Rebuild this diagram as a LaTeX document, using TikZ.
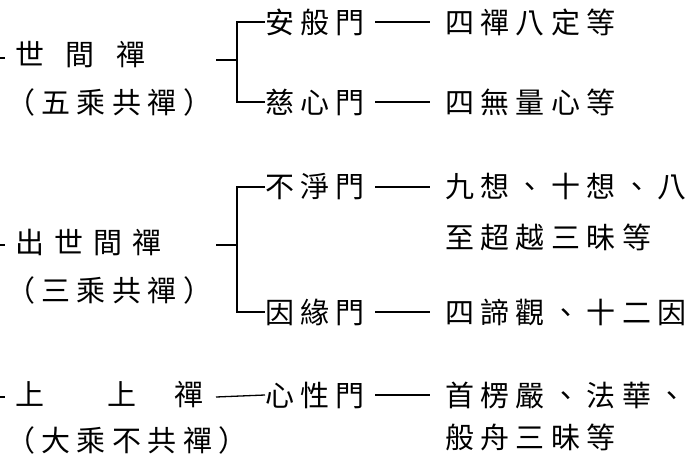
\documentclass[tikz,border=0pt]{standalone}
\usepackage{fontspec}
\newfontfamily\cjk[LetterSpace=22]{Noto Sans CJK TC}
\begin{document}
\begin{tikzpicture}[x=1pt,y=-1pt,
  t/.style={anchor=west,inner sep=0pt,font=\cjk\fontsize{29}{31}\selectfont},
  ln/.style={line width=1.3pt}]
\useasboundingbox (0,0) rectangle (700,470);
\clip (0,0) rectangle (700,470);
% row 1
\node[t] (a) at (15,55) {世\hspace{0.75em}間\hspace{0.75em}禪};
\node[t] (a2) at (6,102) {（五乘共禪）};
\node[t] (a1) at (265,22) {安般門};
\node[t] (a1c) at (445,22) {四禪八定等};
\node[t] (a3) at (265,102) {慈心門};
\node[t] (a3c) at (445,102) {四無量心等};
\coordinate (as) at (0,58); \coordinate (ae) at (5,58);
\draw[ln] (as) -- (ae);
\coordinate (ab) at (237,60);
\draw[ln] (216,60) -- (ab);
\draw[ln] (a1.west) -| (ab) |- (a3.west);
\draw[ln] ([xshift=10pt]a1.east) -- ([xshift=-15pt]a1c.west);
\draw[ln] ([xshift=10pt]a3.east) -- ([xshift=-15pt]a3c.west);
% row 2
\node[t] (b) at (15,243) {出\hspace{0.35em}世\hspace{0.35em}間\hspace{0.35em}禪};
\node[t] (b2) at (6,290) {（三乘共禪）};
\node[t] (b1) at (265,187) {不淨門};
\node[t] (b1c) at (445,187) {九想、十想、八};
\node[t] (b1d) at (445,237) {至超越三昧等};
\node[t] (b3) at (265,312) {因緣門};
\node[t] (b3c) at (445,312) {四諦觀、十二因};
\coordinate (bs) at (0,245); \coordinate (be) at (5,245);
\draw[ln] (bs) -- (be);
\coordinate (bb) at (237,245);
\draw[ln] (216,245) -- (bb);
\draw[ln] (b1.west) -| (bb) |- (b3.west);
\draw[ln] ([xshift=10pt]b1.east) -- ([xshift=-15pt]b1c.west);
\draw[ln] ([xshift=10pt]b3.east) -- ([xshift=-15pt]b3c.west);
% row 3
\node[t] (c) at (15,395) {上\hspace{2.2em}上\hspace{1.3em}禪};
\node[t] (c2) at (6,440) {（大乘不共禪）};
\node[t] (c1) at (265,395) {心性門};
\node[t] (c1c) at (445,395) {首楞嚴、法華、};
\node[t] (c1d) at (445,437) {般舟三昧等};
\coordinate (cs) at (0,397); \coordinate (ce) at (5,397);
\draw[ln] (cs) -- (ce);
\draw[ln] (216,397) -- (c1.west);
\draw[ln] ([xshift=10pt]c1.east) -- ([xshift=-15pt]c1c.west);
\end{tikzpicture}
\end{document}
